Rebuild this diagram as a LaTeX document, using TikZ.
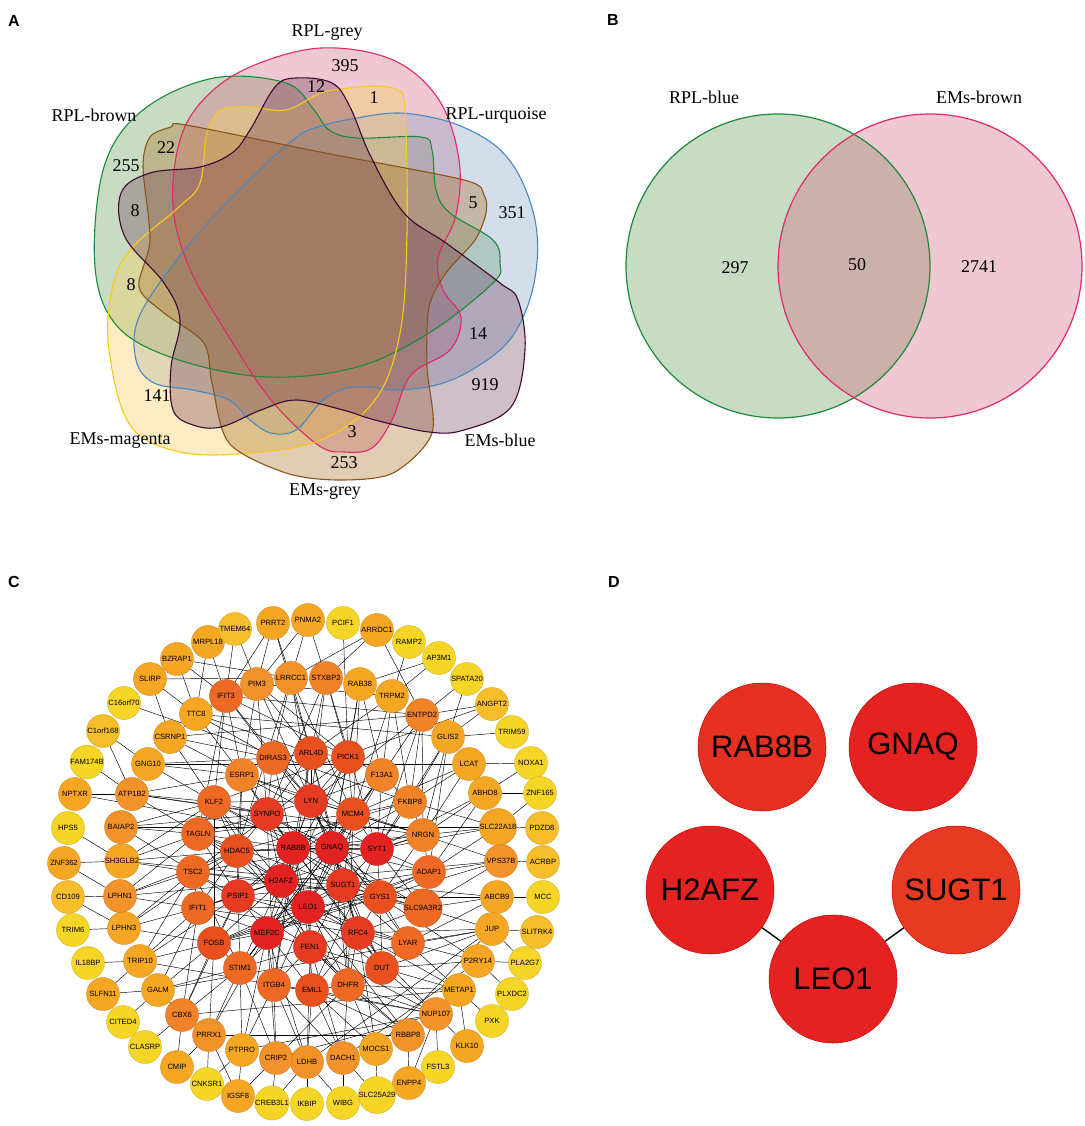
\documentclass[tikz,border=0pt]{standalone}
\usepackage{fontspec}
\setmainfont{Liberation Serif}
\newfontfamily\arialf{Liberation Sans}
\pgfdeclarelayer{bg}
\pgfdeclarelayer{paper}
\pgfsetlayers{paper,bg,main}
\definecolor{cA}{HTML}{E42222}
\definecolor{cB}{HTML}{E63A22}
\definecolor{cC}{HTML}{E8501E}
\definecolor{cD}{HTML}{EE6A24}
\definecolor{cE}{HTML}{F08228}
\definecolor{cF}{HTML}{F2922A}
\definecolor{cG}{HTML}{F5A623}
\definecolor{cH}{HTML}{F5BE2A}
\definecolor{cI}{HTML}{F5D525}
\definecolor{vgreenL}{HTML}{1A8A3A}
\definecolor{vgreenF}{HTML}{629B56}
\definecolor{vpinkL}{HTML}{E0286A}
\definecolor{vpinkF}{HTML}{D4627E}
\definecolor{vblueL}{HTML}{4A88C0}
\definecolor{vblueF}{HTML}{84A1C6}
\definecolor{vyellowL}{HTML}{F8C81C}
\definecolor{vyellowF}{HTML}{F6CE62}
\definecolor{vbrownL}{HTML}{8A5418}
\definecolor{vbrownF}{HTML}{A97029}
\definecolor{vpurpleL}{HTML}{3A0830}
\definecolor{vpurpleF}{HTML}{632C4D}
\newcommand\genefont{\arialf\fontsize{7.6}{8}\selectfont}
\begin{document}
\begin{tikzpicture}[x=1pt,y=-1pt,
  plabel/.style={font=\arialf\bfseries\fontsize{16}{18}\selectfont},
  vlab/.style={font=\fontsize{18}{20}\selectfont},
  gn/.style={circle,minimum size=33pt,inner sep=0pt,font=\genefont,line width=0.4pt},
  nA/.style={fill=cA,draw=cA!85!black},
  nB/.style={fill=cB,draw=cB!85!black},
  nC/.style={fill=cC,draw=cC!85!black},
  nD/.style={fill=cD,draw=cD!85!black},
  nE/.style={fill=cE,draw=cE!85!black},
  nF/.style={fill=cF,draw=cF!85!black},
  nG/.style={fill=cG,draw=cG!85!black},
  nH/.style={fill=cH,draw=cH!85!black},
  nI/.style={fill=cI,draw=cI!85!black},
  edge/.style={draw=black,line width=0.45pt},
  dnode/.style={circle,minimum size=128pt,inner sep=0pt,draw=red!80!black,line width=0.5pt,font=\arialf\fontsize{31}{33}\selectfont},
  dedge/.style={draw=black,line width=1.4pt},
  vline/.style={line width=1.1pt}]
\begin{pgfonlayer}{paper}
\fill[white] (0,0) rectangle (1084,1126);
\end{pgfonlayer}
\useasboundingbox (0,0) rectangle (1084,1126);

% ---------------- panel letters
\node[plabel] (la) at (14,21) {A};
\node[plabel] (lb) at (613,20) {B};
\node[plabel] (lc) at (14,582) {C};
\node[plabel] (ld) at (614,582) {D};

% ---------------- panel A : five-set Venn
\path[save path=\pgreen] plot[smooth cycle,tension=0.6] coordinates {(214,78) (286,83) (314,110) (329,130) (357,138) (421,137) (432,150) (436,190) (450,213) (493,240) (500,263) (493,283) (429,333) (357,367) (268,377) (179,360) (118,327) (95,267) (104,167) (143,110)};
\path[save path=\ppink] plot[smooth cycle,tension=0.6] coordinates {(321,48) (393,60) (439,100) (459,160) (456,215) (438,258) (443,290) (461,317) (450,350) (411,375) (392,420) (372,448) (345,452) (318,445) (271,400) (229,337) (189,267) (173,205) (180,140) (205,98) (250,67)};
\path[save path=\pblue] plot[smooth cycle,tension=0.6] coordinates {(357,118) (395,113) (430,117) (463,127) (497,147) (520,177) (535,220) (537,262) (528,305) (508,342) (475,368) (440,384) (400,390) (368,387) (343,389) (321,402) (296,430) (271,433) (250,420) (229,400) (193,390) (154,383) (136,360) (139,317) (179,257) (232,197) (293,140) (321,126)};
\path[save path=\pyellow] plot[smooth cycle,tension=0.6] coordinates {(350,88) (375,86) (397,90) (405,110) (407,233) (400,333) (375,400) (321,440) (250,453) (180,452) (130,425) (109,350) (112,290) (130,250) (179,207) (200,183) (207,133) (221,110) (250,107) (286,110) (321,93)};
\path[save path=\pbrown] plot[smooth cycle,tension=0.5] coordinates {(171,127) (186,125) (320,152) (464,180) (484,195) (486,213) (475,240) (446,273) (429,307) (427,367) (432,433) (393,473) (339,480) (286,473) (229,443) (212,383) (204,343) (164,313) (139,287) (150,240) (143,167) (150,137)};
\path[save path=\ppurple] plot[smooth cycle,tension=0.6] coordinates {(296,78) (332,83) (350,107) (371,157) (404,213) (446,243) (500,283) (518,300) (525,350) (511,407) (464,430) (429,432) (375,420) (343,410) (296,400) (261,410) (221,427) (193,425) (173,410) (171,367) (180,320) (164,283) (125,237) (121,193) (150,173) (200,167) (232,153) (250,130) (275,87)};
\fill[vgreenF,fill opacity=0.35,use path=\pgreen];
\fill[vpinkF,fill opacity=0.35,use path=\ppink];
\fill[vblueF,fill opacity=0.35,use path=\pblue];
\fill[vyellowF,fill opacity=0.38,use path=\pyellow];
\fill[vbrownF,fill opacity=0.35,use path=\pbrown];
\fill[vpurpleF,fill opacity=0.3,use path=\ppurple];
\draw[vgreenL,vline,use path=\pgreen];
\draw[vpinkL,vline,use path=\ppink];
\draw[vblueL,vline,use path=\pblue];
\draw[vyellowL,vline,use path=\pyellow];
\draw[vbrownL,vline,use path=\pbrown];
\draw[vpurpleL,vline,use path=\ppurple];

\node[vlab] (tRPLgrey) at (327,33) {RPL-grey};
\node[vlab] (tRPLurq) at (496,115) {RPL-urquoise};
\node[vlab] (tRPLbrown) at (94,115) {RPL-brown};
\node[vlab] (tEMsmag) at (120,441) {EMs-magenta};
\node[vlab] (tEMsblue) at (500,440) {EMs-blue};
\node[vlab] (tEMsgrey) at (325,492) {EMs-grey};
\node[vlab] (n395) at (345,66) {395};
\node[vlab] (n12) at (316,87) {12};
\node[vlab] (n1) at (374,98) {1};
\node[vlab] (n22) at (166,148) {22};
\node[vlab] (n255) at (126,166) {255};
\node[vlab] (n8a) at (135,211) {8};
\node[vlab] (n5) at (473,203) {5};
\node[vlab] (n351) at (512,213) {351};
\node[vlab] (n8b) at (131,285) {8};
\node[vlab] (n14) at (478,334) {14};
\node[vlab] (n141) at (157,396) {141};
\node[vlab] (n919) at (485,385) {919};
\node[vlab] (n3) at (352,432) {3};
\node[vlab] (n253) at (344,463) {253};

% ---------------- panel B : two-set Venn
\fill[vgreenF,fill opacity=0.35] (778,266) circle (152);
\fill[vpinkF,fill opacity=0.35] (930,266) circle (152);
\draw[vgreenL,line width=1.2pt] (778,266) circle (152);
\draw[vpinkL,line width=1.2pt] (930,266) circle (152);
\node[vlab] (tRPLblue) at (704,97) {RPL-blue};
\node[vlab] (tEMsbrown) at (979,97) {EMs-brown};
\node[vlab] (n297) at (735,268) {297};
\node[vlab] (n50) at (857,265) {50};
\node[vlab] (n2741) at (979,267) {2741};

% ---------------- panel C : network
\foreach \n/\x/\y/\s in {
 PRRT2/273/623/nG, PNMA2/308/620/nG, PCIF1/343/623/nI, ARRDC1/377/630/nG, RAMP2/409/642/nI,
 AP3M1/439/658/nI, SPATA20/467/679/nI, ANGPT2/492/704/nH, TRIM59/512/732/nI, NOXA1/531/763/nI,
 ZNF165/540/793/nI, PDZD8/542/828/nH, ACRBP/543/862/nH, MCC/543/897/nI, SLITRK4/537/932/nH,
 PLA2G7/525/963/nI, PLXDC2/512/994/nI, PXK/492/1021/nI, KLK10/467/1046/nG, FSTL3/438/1067/nI,
 ENPP4/409/1083/nG, SLC25A29/377/1095/nI, WIBG/343/1103/nI, IKBIP/307/1104/nI, CREB3L1/272/1103/nI,
 IGSF8/238/1096/nG, CNKSR1/207/1084/nI, CMIP/177/1067/nG, CLASRP/145/1047/nI, CITED4/123/1022/nI,
 SLFN11/103/994/nG, IL18BP/88/963/nI, TRIM6/73/930/nI, CD109/68/897/nH, ZNF362/64/863/nG,
 HPS5/68/828/nI, NPTXR/75/794/nG, FAM174B/87/762/nI, C1orf168/103/731/nH, C16orf70/124/703/nI,
 SLIRP/150/679/nG, BZRAP1/177/659/nG, MRPL18/208/642/nG, TMEM64/235/629/nH,
 LRRCC1/291/678/nF, STXBP2/326/678/nE, RAB38/360/684/nG, TRPM2/392/696/nG, ENTPD2/422/715/nE,
 GLIS2/448/737/nG, LCAT/469/764/nG, ABHD8/485/793/nG, SLC22A18/498/827/nG, VPS37B/501/861/nF,
 ABCB9/497/897/nG, JUP/492/929/nG, P2RY14/478/961/nG, METAP1/459/990/nG, NUP107/436/1014/nF,
 RBBP8/408/1035/nF, MOCS1/376/1049/nG, DACH1/343/1058/nF, LDHB/307/1062/nF, CRIP2/276/1058/nF,
 PTPRO/242/1050/nG, PRRX1/209/1035/nF, CBX6/182/1015/nE, GALM/158/990/nG, TRIP10/140/961/nG,
 LPHN3/124/928/nG, LPHN1/120/896/nF, SH3GLB2/122/861/nG, BAIAP2/121/827/nF, ATP1B2/132/794/nF,
 GNG10/148/764/nG, CSRNP1/170/737/nG, TTC8/196/714/nG, IFIT3/226/696/nD, PIM3/257/684/nF,
 DIRAS3/273/758/nD, ARL4D/311/753/nC, PICK1/348/757/nC, F13A1/382/775/nE, FKBP8/410/802/nE,
 NRGN/423/835/nE, ADAP1/429/872/nD, SLC9A3R2/423/908/nD, LYAR/408/943/nD, DUT/382/968/nC,
 DHFR/348/985/nD, EML1/312/990/nC, ITGB4/274/985/nD, STIM1/240/968/nD, FOSB/214/943/nC,
 IFIT1/198/908/nD, TSC2/193/872/nD, TAGLN/198/834/nD, KLF2/214/802/nD, ESRP1/242/775/nE,
 LYN/311/801/nB, MCM4/353/814/nC, SYT1/377/849/nA, GYS1/380/897/nC, RFC4/358/933/nB,
 FEN1/310/947/nB, MEF2C/267/933/nA, PSIP1/238/896/nB, HDAC5/237/851/nC, SYNPO/267/814/nB,
 RAB8B/293/848/nA, GNAQ/332/848/nA, SUGT1/343/885/nB, LEO1/308/907/nA, H2AFZ/281/881/nA}
 \node[gn,\s] (\n) at (\x,\y) {\n};

\begin{pgfonlayer}{bg}
\foreach \a/\b in {
 RAB8B/GNAQ, RAB8B/H2AFZ, RAB8B/SUGT1, GNAQ/SUGT1, GNAQ/LEO1, H2AFZ/LEO1, SUGT1/LEO1, H2AFZ/SUGT1, RAB8B/LEO1, GNAQ/H2AFZ,
 RAB8B/LYN, RAB8B/SYNPO, RAB8B/HDAC5, RAB8B/MCM4, RAB8B/PSIP1, RAB8B/FEN1, RAB8B/GYS1, RAB8B/SYT1,
 GNAQ/LYN, GNAQ/MCM4, GNAQ/SYT1, GNAQ/GYS1, GNAQ/RFC4, GNAQ/MEF2C, GNAQ/SYNPO, GNAQ/HDAC5,
 SUGT1/SYT1, SUGT1/GYS1, SUGT1/RFC4, SUGT1/FEN1, SUGT1/MCM4, SUGT1/PSIP1, SUGT1/LYN,
 LEO1/FEN1, LEO1/MEF2C, LEO1/RFC4, LEO1/PSIP1, LEO1/GYS1, LEO1/SYNPO, LEO1/MCM4,
 H2AFZ/PSIP1, H2AFZ/HDAC5, H2AFZ/MEF2C, H2AFZ/FEN1, H2AFZ/SYNPO, H2AFZ/LYN, H2AFZ/RFC4,
 RAB8B/DIRAS3, RAB8B/ARL4D, RAB8B/KLF2, RAB8B/TAGLN, RAB8B/ESRP1, RAB8B/NRGN, RAB8B/DUT, RAB8B/ITGB4,
 GNAQ/PICK1, GNAQ/F13A1, GNAQ/FKBP8, GNAQ/NRGN, GNAQ/ADAP1, GNAQ/STIM1, GNAQ/TSC2, GNAQ/DHFR,
 SUGT1/ADAP1, SUGT1/SLC9A3R2, SUGT1/LYAR, SUGT1/DUT, SUGT1/DHFR, SUGT1/TAGLN, SUGT1/ARL4D, SUGT1/FOSB,
 LEO1/EML1, LEO1/DHFR, LEO1/ITGB4, LEO1/STIM1, LEO1/FOSB, LEO1/IFIT1, LEO1/LYAR, LEO1/F13A1,
 H2AFZ/TSC2, H2AFZ/IFIT1, H2AFZ/FOSB, H2AFZ/STIM1, H2AFZ/KLF2, H2AFZ/TAGLN, H2AFZ/SLC9A3R2, H2AFZ/PICK1,
 LYN/MCM4, LYN/SYNPO, MCM4/SYT1, SYT1/GYS1, GYS1/RFC4, RFC4/FEN1, FEN1/MEF2C, MEF2C/PSIP1,
 PSIP1/HDAC5, HDAC5/SYNPO, LYN/GYS1, SYNPO/RFC4, HDAC5/SYT1, PSIP1/MCM4, MEF2C/GYS1, FEN1/LYN,
 LYN/ARL4D, LYN/PICK1, LYN/DIRAS3, LYN/ESRP1, LYN/F13A1, LYN/KLF2, LYN/NRGN, LYN/DUT,
 MCM4/PICK1, MCM4/F13A1, MCM4/FKBP8, MCM4/NRGN, MCM4/DIRAS3, MCM4/TAGLN, MCM4/DHFR,
 SYT1/FKBP8, SYT1/NRGN, SYT1/ADAP1, SYT1/SLC9A3R2, SYT1/F13A1, SYT1/ESRP1, SYT1/EML1,
 GYS1/ADAP1, GYS1/SLC9A3R2, GYS1/LYAR, GYS1/DUT, GYS1/NRGN, GYS1/TSC2, GYS1/FOSB,
 RFC4/LYAR, RFC4/DUT, RFC4/DHFR, RFC4/EML1, RFC4/SLC9A3R2, RFC4/IFIT1, RFC4/ARL4D,
 FEN1/DHFR, FEN1/EML1, FEN1/ITGB4, FEN1/STIM1, FEN1/DUT, FEN1/KLF2, FEN1/TSC2,
 MEF2C/ITGB4, MEF2C/STIM1, MEF2C/FOSB, MEF2C/IFIT1, MEF2C/EML1, MEF2C/ADAP1, MEF2C/PICK1,
 PSIP1/FOSB, PSIP1/IFIT1, PSIP1/TSC2, PSIP1/TAGLN, PSIP1/STIM1, PSIP1/LYAR, PSIP1/ESRP1,
 HDAC5/TSC2, HDAC5/TAGLN, HDAC5/KLF2, HDAC5/ESRP1, HDAC5/IFIT1, HDAC5/FKBP8, HDAC5/DHFR,
 SYNPO/KLF2, SYNPO/ESRP1, SYNPO/DIRAS3, SYNPO/ARL4D, SYNPO/TAGLN, SYNPO/ITGB4, SYNPO/SLC9A3R2,
 DIRAS3/ARL4D, ARL4D/PICK1, PICK1/F13A1, F13A1/FKBP8, FKBP8/NRGN, NRGN/ADAP1, ADAP1/SLC9A3R2,
 LYAR/DUT, DUT/DHFR, DHFR/EML1, EML1/ITGB4, STIM1/FOSB, IFIT1/TSC2, TAGLN/KLF2, ESRP1/DIRAS3,
 KLF2/FOSB, TSC2/STIM1, TAGLN/DUT, ESRP1/NRGN, ARL4D/ITGB4, PICK1/TSC2, F13A1/STIM1,
 DIRAS3/LYAR, FOSB/ADAP1, IFIT1/NRGN, KLF2/SLC9A3R2,
 IFIT3/DIRAS3, IFIT3/LYN, IFIT3/KLF2, IFIT3/ESRP1, IFIT3/TAGLN, IFIT3/PICK1, IFIT3/TTC8,
 PIM3/ARL4D, PIM3/LYN, PIM3/SYNPO, PIM3/ESRP1, PIM3/PICK1,
 LRRCC1/ARL4D, LRRCC1/DIRAS3, LRRCC1/LYN, LRRCC1/MCM4, LRRCC1/HDAC5,
 STXBP2/PICK1, STXBP2/ARL4D, STXBP2/LYN, STXBP2/SYT1, STXBP2/SYNPO,
 RAB38/PICK1, RAB38/F13A1, RAB38/MCM4, RAB38/GNAQ,
 TRPM2/F13A1, TRPM2/FKBP8, TRPM2/MCM4, TRPM2/ARL4D,
 ENTPD2/FKBP8, ENTPD2/NRGN, ENTPD2/SYT1, ENTPD2/LYN, ENTPD2/F13A1,
 GLIS2/NRGN, GLIS2/FKBP8, GLIS2/SYT1, GLIS2/ADAP1,
 LCAT/FKBP8, LCAT/NRGN, LCAT/MCM4, LCAT/ABHD8,
 ABHD8/NRGN, ABHD8/SYT1, ABHD8/ADAP1,
 SLC22A18/ADAP1, SLC22A18/NRGN, SLC22A18/SYT1, SLC22A18/FKBP8,
 VPS37B/ADAP1, VPS37B/SLC9A3R2, VPS37B/GYS1, VPS37B/NRGN,
 ABCB9/SLC9A3R2, ABCB9/GYS1, ABCB9/LYAR,
 JUP/LYAR, JUP/SLC9A3R2, JUP/RFC4, JUP/DUT,
 P2RY14/LYAR, P2RY14/DUT, P2RY14/GYS1,
 METAP1/DUT, METAP1/DHFR, METAP1/LYAR, METAP1/RFC4,
 NUP107/DHFR, NUP107/DUT, NUP107/RFC4, NUP107/EML1, NUP107/FEN1,
 RBBP8/DHFR, RBBP8/EML1, RBBP8/FEN1, RBBP8/LEO1,
 MOCS1/DHFR, MOCS1/EML1, MOCS1/RFC4,
 DACH1/EML1, DACH1/DHFR, DACH1/ITGB4, DACH1/FEN1,
 LDHB/EML1, LDHB/ITGB4, LDHB/FEN1, LDHB/MEF2C,
 CRIP2/ITGB4, CRIP2/STIM1, CRIP2/MEF2C, CRIP2/DHFR, CRIP2/LDHB,
 PTPRO/STIM1, PTPRO/ITGB4, PTPRO/MEF2C,
 PRRX1/STIM1, PRRX1/FOSB, PRRX1/CBX6, PRRX1/MEF2C,
 CBX6/FOSB, CBX6/STIM1, CBX6/IFIT1, CBX6/PSIP1,
 GALM/FOSB, GALM/IFIT1, GALM/CBX6, GALM/STIM1,
 TRIP10/IFIT1, TRIP10/FOSB, TRIP10/TSC2, TRIP10/PSIP1,
 LPHN3/IFIT1, LPHN3/TSC2, LPHN3/FOSB, LPHN3/HDAC5,
 LPHN1/TSC2, LPHN1/IFIT1, LPHN1/TAGLN, LPHN1/HDAC5,
 SH3GLB2/TSC2, SH3GLB2/TAGLN, SH3GLB2/KLF2, SH3GLB2/HDAC5,
 BAIAP2/TAGLN, BAIAP2/KLF2, BAIAP2/SYNPO, BAIAP2/TSC2,
 ATP1B2/KLF2, ATP1B2/ESRP1, ATP1B2/TAGLN, ATP1B2/SYNPO,
 GNG10/KLF2, GNG10/ESRP1, GNG10/DIRAS3,
 CSRNP1/ESRP1, CSRNP1/KLF2, CSRNP1/DIRAS3, CSRNP1/IFIT3,
 TTC8/DIRAS3, TTC8/ESRP1, TTC8/ARL4D,
 ATP1B2/NRGN, BAIAP2/SLC22A18, SH3GLB2/ABCB9, GALM/JUP, TRIP10/NUP107, CBX6/METAP1,
 LPHN1/VPS37B, GNG10/LCAT, CSRNP1/ENTPD2, TTC8/GLIS2, IFIT3/ENTPD2, PIM3/TRPM2,
 CRIP2/NUP107, PRRX1/RBBP8, PTPRO/NUP107, LDHB/JUP, DACH1/P2RY14, MOCS1/JUP,
 PRRT2/LRRCC1, PRRT2/PIM3, PRRT2/IFIT3, PRRT2/ARL4D,
 TMEM64/IFIT3, TMEM64/PIM3, MRPL18/IFIT3, MRPL18/TTC8,
 BZRAP1/TTC8, BZRAP1/LRRCC1, BZRAP1/IFIT3,
 SLIRP/LRRCC1, SLIRP/TTC8, SLIRP/CSRNP1,
 C16orf70/FKBP8, C1orf168/GNG10, C1orf168/ATP1B2, FAM174B/ATP1B2,
 NPTXR/ATP1B2, NPTXR/SYT1, HPS5/SH3GLB2, ZNF362/SH3GLB2, ZNF362/LPHN1,
 CD109/LPHN1, CD109/LPHN3, TRIM6/LPHN3, IL18BP/TRIP10, SLFN11/TRIP10, SLFN11/GALM,
 CITED4/GALM, CLASRP/CBX6, CMIP/PRRX1, CMIP/CBX6, CNKSR1/PRRX1, CNKSR1/PTPRO,
 IGSF8/PRRX1, IGSF8/PTPRO, IGSF8/CRIP2, CREB3L1/CRIP2, CREB3L1/LDHB, IKBIP/LDHB,
 WIBG/DACH1, WIBG/LDHB, SLC25A29/DACH1, SLC25A29/MOCS1, ENPP4/RBBP8, ENPP4/NUP107,
 FSTL3/NUP107, KLK10/METAP1, KLK10/NUP107, PXK/METAP1, PLXDC2/P2RY14,
 PLA2G7/P2RY14, PLA2G7/JUP, SLITRK4/JUP, MCC/ABCB9, ACRBP/VPS37B, PDZD8/SLC22A18,
 ZNF165/ABHD8, ZNF165/SLC22A18, NOXA1/LCAT, NOXA1/ABHD8, TRIM59/GLIS2,
 ANGPT2/GLIS2, ANGPT2/ENTPD2, ANGPT2/KLF2, SPATA20/GLIS2, SPATA20/ENTPD2,
 AP3M1/RAB38, AP3M1/TRPM2, RAMP2/TRPM2, ARRDC1/LRRCC1, ARRDC1/STXBP2, ARRDC1/ENTPD2,
 PCIF1/PICK1, PNMA2/STXBP2, PNMA2/LRRCC1, PNMA2/PIM3}
 \draw[edge] (\a) -- (\b);
\end{pgfonlayer}

% ---------------- panel D
\node[dnode,fill=cB!60!cA] (dRAB8B) at (762,747) {RAB8B};
\node[dnode,fill=cA] (dGNAQ) at (913,747) {GNAQ};
\node[dnode,fill=cA] (dH2AFZ) at (710,890) {H2AFZ};
\node[dnode,fill=cB] (dSUGT1) at (956,890) {SUGT1};
\node[dnode,fill=cA] (dLEO1) at (833,979) {LEO1};
\begin{pgfonlayer}{bg}
\draw[dedge] (dH2AFZ) -- (dLEO1);
\draw[dedge] (dLEO1) -- (dSUGT1);
\end{pgfonlayer}
\end{tikzpicture}
\end{document}
